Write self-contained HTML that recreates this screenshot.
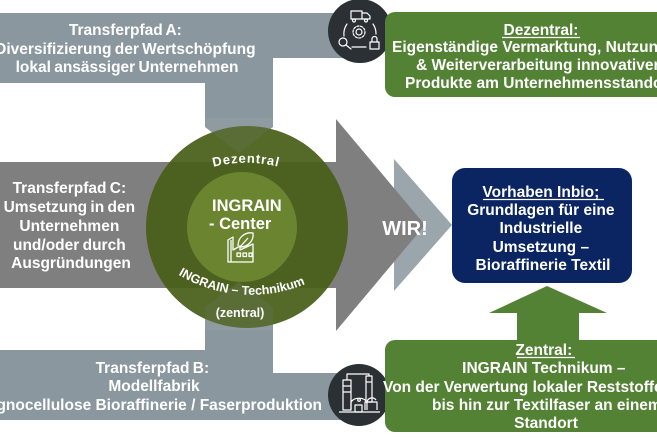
<!DOCTYPE html>
<html>
<head>
<meta charset="utf-8">
<style>
  html,body{margin:0;padding:0;background:#fff;}
  svg{display:block;}
  text{font-family:"Liberation Sans", Arial, sans-serif;font-weight:bold;fill:#fff;}
</style>
</head>
<body>
<svg width="657" height="438" viewBox="0 0 657 438" xmlns="http://www.w3.org/2000/svg">
  <!-- Top bar A -->
  <polygon points="0,13 345,13 345,58 273,58 273,127 239,153 205,127 205,83 0,83" fill="#8b979e"/>
  <!-- Bottom bar B -->
  <polygon points="0,350 205,350 205,307 239,282 273,307 273,373 345,373 345,420 0,420" fill="#8b979e"/>
  <!-- Light chevron -->
  <polygon points="394,159 452,225 394,291" fill="#9ba6ac"/>
  <!-- Dark big arrow -->
  <polygon points="0,162 336,162 336,119 425,225 336,331 336,288 0,288" fill="#7f7f7f"/>

  <!-- Circle -->
  <circle cx="247" cy="227" r="101" fill="rgb(72,94,24)" fill-opacity="0.93"/>
  <polygon points="205,127 239,153 273,127 273,118 205,118" fill="#a8b4ba" fill-opacity="0.14"/>
  <polygon points="205,330 205,307 239,282 273,307 273,330" fill="#a8b4ba" fill-opacity="0.14"/>
  <circle cx="242" cy="227" r="55" fill="#6b8430"/>

  <!-- Circle texts -->
  <defs>
    <path id="arcTop" d="M 203 170 A 130 130 0 0 1 289 170"/>
    <path id="arcBot" d="M 174 272 A 142 142 0 0 0 310 282"/>
  </defs>
  <text font-size="13" letter-spacing="0.8"><textPath href="#arcTop" startOffset="50%" text-anchor="middle">Dezentral</textPath></text>
  <text font-size="12.5"><textPath href="#arcBot" startOffset="50%" text-anchor="middle">INGRAIN – Technikum</textPath></text>
  <text x="240" y="317" font-size="12.5" text-anchor="middle">(zentral)</text>

  <text x="212" y="211" font-size="16.5">INGRAIN</text>
  <text x="209" y="229" font-size="16.5">- Center</text>

  <!-- factory icon -->
  <g fill="none" stroke="#fff" stroke-width="1.3" stroke-linejoin="round">
    <path d="M228 262 L228 240 L233 237 L233 250 L240 246 L240 250 L253 244 L253 262 Z"/>
    <path d="M231 240 L231 262"/>
    <path d="M238 246 C238 236 246 232 253 233 C254 241 248 247 240 247"/>
    <path d="M240 247 L248 238"/>
    <rect x="237" y="253" width="3.5" height="3.5"/>
    <rect x="243" y="253" width="3.5" height="3.5"/>
    <rect x="249" y="253" width="3" height="3.5"/>
  </g>

  <!-- WIR -->
  <text x="405" y="235" font-size="20" text-anchor="middle">WIR!</text>

  <!-- Icon circles -->
  <circle cx="360" cy="31" r="32" fill="#2b3034"/>
  <g fill="none" stroke="#fff" stroke-width="1.2" stroke-linecap="round" stroke-linejoin="round">
    <rect x="351" y="11" width="11" height="8"/>
    <path d="M362 13 L367 13 L370 16 L370 19 L362 19"/>
    <circle cx="354" cy="20.5" r="1.5"/>
    <circle cx="366" cy="20.5" r="1.5"/>
    <path d="M347 24 A17 17 0 0 0 344 36"/>
    <path d="M373 24 A17 17 0 0 1 376 34"/>
    <path d="M352 47 L366 47"/>
    <circle cx="359" cy="32" r="3"/>
    <circle cx="359" cy="32" r="6" stroke-dasharray="2.2 1.5"/>
    <circle cx="343" cy="42" r="4"/>
    <path d="M346 45 L351 49"/>
    <rect x="370" y="42" width="9" height="7"/>
    <path d="M372 42 L372 39 A2.5 2.5 0 0 1 377 39 L377 42"/>
  </g>

  <circle cx="359" cy="395" r="31" fill="#2b3034"/>
  <g fill="none" stroke="#fff" stroke-width="1.2" stroke-linejoin="round">
    <rect x="343" y="380" width="8" height="30"/>
    <path d="M343 386 L351 386 M343 392 L351 392"/>
    <rect x="366" y="376" width="6" height="26"/>
    <path d="M366 382 L372 382"/>
    <path d="M347 380 L347 374 L369 374 L369 376"/>
    <path d="M351 410 L351 402 A9 7 0 0 1 367 402 L367 410"/>
    <circle cx="359" cy="400" r="1.3"/>
    <path d="M365 410 L365 402 L377 402 L377 410"/>
    <path d="M367 402 A5 5 0 0 1 376 400"/>
    <path d="M339 412 L380 412"/>
    <rect x="355" y="405" width="7" height="7"/>
  </g>

  <!-- Transferpfad A text -->
  <text font-size="15.5" word-spacing="-1" text-anchor="middle">
    <tspan x="127" y="35">Transferpfad A:</tspan>
    <tspan x="127" y="54">Diversifizierung der Wertschöpfung</tspan>
    <tspan x="127" y="72">lokal ansässiger Unternehmen</tspan>
  </text>

  <!-- Transferpfad C text -->
  <text font-size="15.5" word-spacing="-1" text-anchor="middle">
    <tspan x="71" y="193">Transferpfad C:</tspan>
    <tspan x="71" y="212">Umsetzung in den</tspan>
    <tspan x="71" y="231">Unternehmen</tspan>
    <tspan x="71" y="250">und/oder durch</tspan>
    <tspan x="71" y="268">Ausgründungen</tspan>
  </text>

  <!-- Transferpfad B text -->
  <text font-size="15.5" word-spacing="-1" text-anchor="middle">
    <tspan x="154" y="373">Transferpfad B:</tspan>
    <tspan x="154" y="391">Modellfabrik</tspan>
  </text>
  <text font-size="15.5" text-anchor="end" x="322" y="410">Lignocellulose Bioraffinerie  / Faserproduktion</text>

  <!-- Dezentral box -->
  <rect x="385" y="12" width="290" height="85" rx="10" fill="#548235"/>
  <text font-size="15.5" x="541" y="35" text-anchor="middle">Dezentral:</text>
  <line x1="502" y1="37.5" x2="580" y2="37.5" stroke="#fff" stroke-width="1.3"/>
  <text font-size="15.5">
    <tspan x="392" y="52">Eigenständige Vermarktung, Nutzung</tspan>
    <tspan x="416" y="70">&amp; Weiterverarbeitung innovativer</tspan>
    <tspan x="405" y="88">Produkte am Unternehmensstandort</tspan>
  </text>

  <!-- Vorhaben Inbio box -->
  <rect x="452" y="168" width="180" height="115" rx="13" fill="#0b2462"/>
  <text font-size="15.5" text-anchor="middle">
    <tspan x="543" y="197">Vorhaben Inbio;</tspan>
    <tspan x="543" y="215">Grundlagen für eine</tspan>
    <tspan x="543" y="233">Industrielle</tspan>
    <tspan x="543" y="252">Umsetzung –</tspan>
    <tspan x="543" y="270">Bioraffinerie Textil</tspan>
  </text>
  <line x1="483" y1="199.5" x2="604" y2="199.5" stroke="#fff" stroke-width="1.3"/>

  <!-- Green up arrow -->
  <polygon points="547,286 607,313 579,313 579,342 517,342 517,313 489,313" fill="#548235"/>

  <!-- Zentral box -->
  <rect x="385" y="340" width="290" height="92" rx="10" fill="#548235"/>
  <text font-size="15.5" text-anchor="middle">
    <tspan x="546" y="355">Zentral:</tspan>
    <tspan x="546" y="373">INGRAIN Technikum –</tspan>
    <tspan x="546" y="428">Standort</tspan>
  </text>
  <line x1="517" y1="357.5" x2="575" y2="357.5" stroke="#fff" stroke-width="1.3"/>
  <text font-size="15.5">
    <tspan x="383" y="392">Von der Verwertung lokaler Reststoffe</tspan>
    <tspan x="432" y="410">bis hin zur Textilfaser an einem</tspan>
  </text>
</svg>
</body>
</html>
